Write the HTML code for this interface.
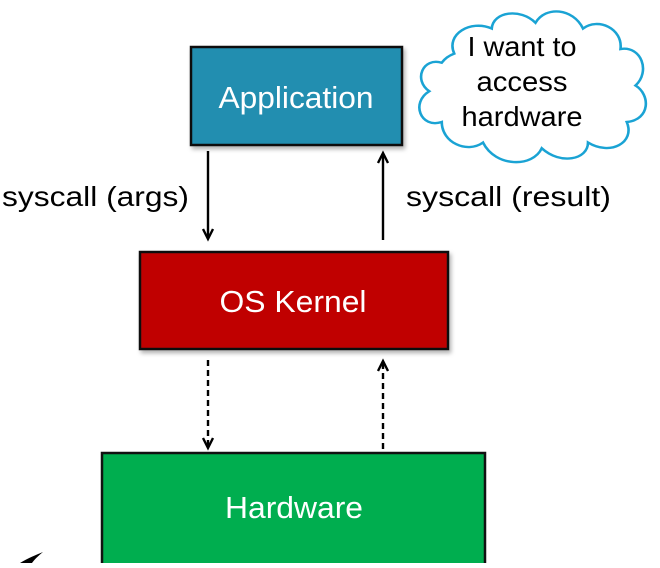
<!DOCTYPE html>
<html><head><style>
body{margin:0;background:#fff;}
svg text{font-family:"Liberation Sans",Arial,sans-serif;}
</style></head><body>
<svg width="660" height="563" viewBox="0 0 660 563" xmlns="http://www.w3.org/2000/svg">
<defs>
<filter id="sh" x="-5%" y="-5%" width="115%" height="120%"><feDropShadow dx="2" dy="3" stdDeviation="2" flood-color="#000" flood-opacity="0.3"/></filter>
</defs>
<g transform="translate(413,8) scale(1.25,1.14) translate(-322,-12)">
<path d="M345,60 C330,55 322,75 335,85 C320,95 328,118 345,112 C345,130 365,140 378,130 C388,152 418,152 425,135 C440,150 462,145 462,130 C480,142 500,130 493,112 C512,110 512,88 500,80 C512,68 505,45 488,48 C490,30 470,20 458,30 C450,12 428,10 420,25 C408,12 386,15 385,30 C368,22 348,35 355,52 C350,54 347,57 345,60 Z" fill="#fff" stroke="#1aa3d4" stroke-width="2.1"/>
</g>
<text x="522" y="56" font-size="28" text-anchor="middle" textLength="109" lengthAdjust="spacingAndGlyphs">I want to</text>
<text x="522" y="91" font-size="28" text-anchor="middle" textLength="91" lengthAdjust="spacingAndGlyphs">access</text>
<text x="522" y="126" font-size="28" text-anchor="middle" textLength="121" lengthAdjust="spacingAndGlyphs">hardware</text>
<rect x="191" y="47" width="211" height="98" fill="#208eb0" stroke="#111" stroke-width="2.5" filter="url(#sh)"/>
<text x="296" y="108" font-size="31" fill="#fff" text-anchor="middle" textLength="155" lengthAdjust="spacingAndGlyphs">Application</text>
<rect x="140" y="252" width="308" height="97" fill="#c00000" stroke="#111" stroke-width="2.5" filter="url(#sh)"/>
<text x="293" y="312" font-size="31" fill="#fff" text-anchor="middle" textLength="147" lengthAdjust="spacingAndGlyphs">OS Kernel</text>
<rect x="102" y="453" width="383" height="115" fill="#00ae4f" stroke="#111" stroke-width="2.5"/>
<text x="294" y="518" font-size="31" fill="#fff" text-anchor="middle" textLength="138" lengthAdjust="spacingAndGlyphs">Hardware</text>
<text x="2" y="206" font-size="28" textLength="187" lengthAdjust="spacingAndGlyphs">syscall (args)</text>
<text x="406" y="206" font-size="28" textLength="205" lengthAdjust="spacingAndGlyphs">syscall (result)</text>
<g stroke="#000" stroke-width="2.4" fill="none">
<line x1="208" y1="151" x2="208" y2="238"/>
<polyline points="203,229 208,239 213,229"/>
<line x1="383" y1="240" x2="383" y2="154"/>
<polyline points="378,163 383,153 388,163"/>
<line x1="208" y1="360" x2="208" y2="447" stroke-dasharray="6,4"/>
<polyline points="203,438 208,448 213,438"/>
<line x1="383" y1="449" x2="383" y2="362" stroke-dasharray="6,4"/>
<polyline points="378,371 383,361 388,371"/>
</g>
<path d="M20,563 C28,558 36,555 43,552 C38,556 34,560 32,563 Z" fill="#000"/>
</svg>
</body></html>
